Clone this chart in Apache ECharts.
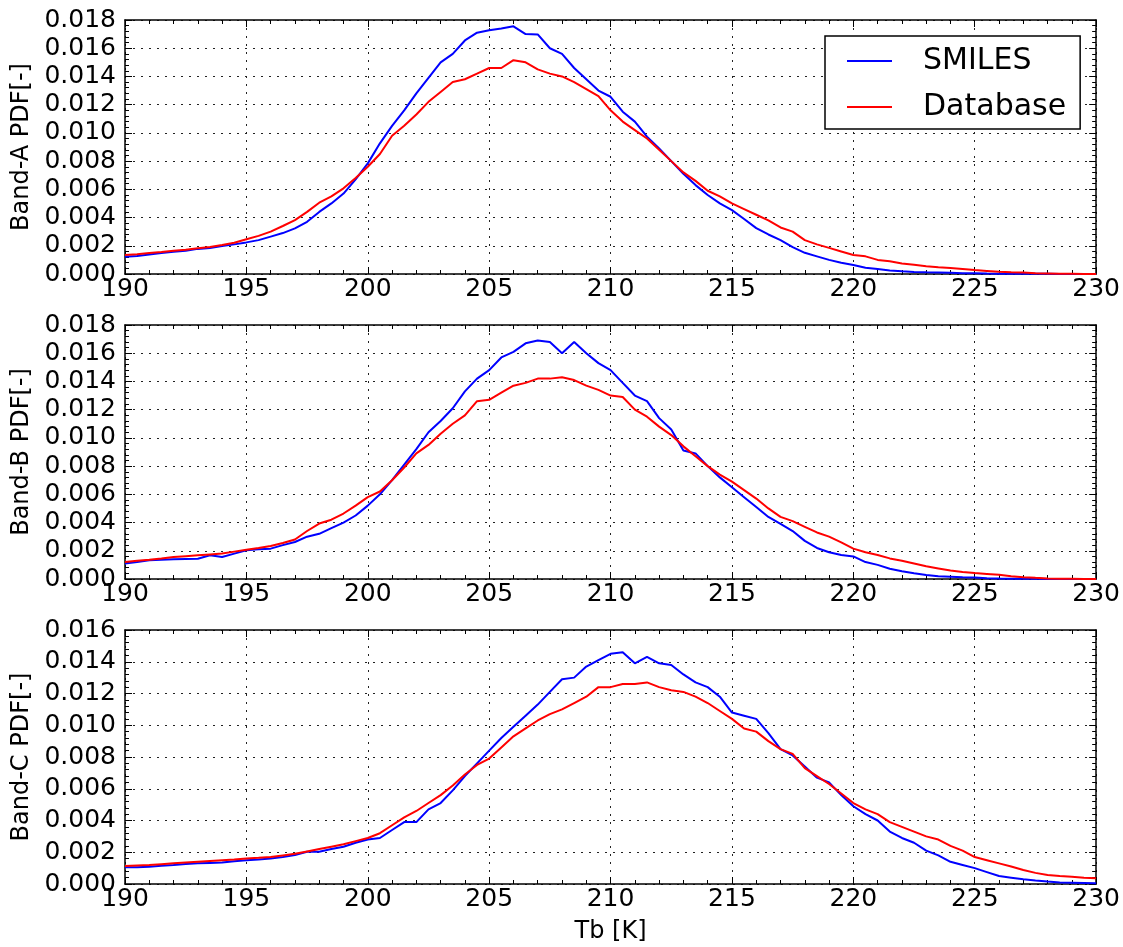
<!DOCTYPE html>
<html>
<head>
<meta charset="utf-8">
<script src="https://cdn.jsdelivr.net/npm/echarts@6/dist/echarts.min.js"></script>
<style>
html,body{margin:0;padding:0;background:#fff;}
#chart{width:1123px;height:947px;}
</style>
</head>
<body>
<div id="chart"></div>
<script>
// Brightness temperature axis (K)
const TB = [
  190,190.5,191,191.5,192,192.5,193,193.5,194,194.5,
  195,195.5,196,196.5,197,197.5,198,198.5,199,199.5,
  200,200.5,201,201.5,202,202.5,203,203.5,204,204.5,
  205,205.5,206,206.5,207,207.5,208,208.5,209,209.5,
  210,210.5,211,211.5,212,212.5,213,213.5,214,214.5,
  215,215.5,216,216.5,217,217.5,218,218.5,219,219.5,
  220,220.5,221,221.5,222,222.5,223,223.5,224,224.5,
  225,225.5,226,226.5,227,227.5,228,228.5,229,229.5,
  230
];

const bandA_SMILES = [
  0.00123,0.00128,0.00138,0.00148,0.00158,0.00165,0.00178,0.00185,0.00198,0.0021,
  0.00224,0.0024,0.00265,0.0029,0.00323,0.0037,0.0044,0.005,0.0057,0.0067,
  0.00784,0.00926,0.0105,0.0116,0.0128,0.0139,0.015,0.0156,0.01655,0.0171,
  0.01728,0.0174,0.01755,0.017,0.01698,0.016,0.0156,0.0146,0.0138,0.013,
  0.01256,0.0115,0.0108,0.00973,0.0089,0.008,0.0071,0.0063,0.0056,0.005,
  0.00453,0.0039,0.00325,0.0028,0.0024,0.0019,0.0015,0.00125,0.001,0.0008,
  0.00064,0.00045,0.00035,0.00025,0.00019,0.00015,0.00012,0.0001,0.00008,0.00006,
  0.00005,0.00003,0.00002,0.00002,0.00001,0.00001,0.00001,0,0,0,
  0
];
const bandA_Database = [
  0.00135,0.0014,0.00148,0.00156,0.00165,0.00172,0.00182,0.00192,0.00205,0.00222,
  0.00246,0.0027,0.003,0.0034,0.00382,0.0044,0.00505,0.0055,0.00607,0.0068,
  0.0076,0.0085,0.0098,0.0105,0.0113,0.0122,0.0129,0.0136,0.0138,0.0142,
  0.0146,0.0146,0.01515,0.015,0.0145,0.0142,0.014,0.0136,0.0131,0.0126,
  0.0116,0.0108,0.0102,0.0096,0.0088,0.008,0.0072,0.0066,0.0059,0.0055,
  0.005,0.0046,0.0042,0.0038,0.0033,0.003,0.0024,0.0021,0.00185,0.0016,
  0.00135,0.00125,0.001,0.0009,0.00075,0.00065,0.00055,0.00047,0.00042,0.00035,
  0.00028,0.00022,0.00016,0.00012,0.0001,0.00006,0.00004,0.00002,0.00001,0,
  0
];
const bandB_SMILES = [
  0.00109,0.0012,0.00132,0.00136,0.0014,0.00142,0.00144,0.00168,0.00156,0.0018,
  0.00203,0.0021,0.00215,0.0024,0.00262,0.003,0.0032,0.0036,0.004,0.0045,
  0.0052,0.006,0.007,0.0081,0.0092,0.0104,0.0112,0.0121,0.0133,0.0142,
  0.0148,0.0157,0.0161,0.0167,0.0169,0.0168,0.016,0.0168,0.016,0.0153,
  0.0148,0.0139,0.013,0.0126,0.0114,0.0106,0.0091,0.0089,0.008,0.0072,
  0.0065,0.0058,0.0051,0.0044,0.0039,0.0034,0.0027,0.0022,0.0019,0.0017,
  0.0016,0.0012,0.001,0.00073,0.00055,0.0004,0.00028,0.0002,0.00016,0.00012,
  0.0001,0.00006,0.00003,0.00002,0.00001,0.00001,0,0,0,0,
  0
];
const bandB_Database = [
  0.0012,0.0013,0.00137,0.00146,0.00156,0.00162,0.00168,0.00174,0.0018,0.00194,
  0.00208,0.0022,0.00234,0.00255,0.0028,0.0034,0.00393,0.0042,0.00464,0.0052,
  0.0058,0.0062,0.007,0.0079,0.0089,0.0095,0.0103,0.011,0.0116,0.0126,
  0.0127,0.0132,0.0137,0.0139,0.0142,0.0142,0.0143,0.0141,0.0137,0.0134,
  0.013,0.0129,0.012,0.0115,0.0108,0.0102,0.0094,0.0087,0.008,0.0074,
  0.0069,0.0063,0.0057,0.005,0.0044,0.0041,0.0037,0.0033,0.003,0.0026,
  0.00215,0.0019,0.0017,0.00146,0.0013,0.0011,0.0009,0.00075,0.0006,0.0005,
  0.00042,0.00036,0.0003,0.0002,0.00013,0.00008,0.00004,0.00002,0.00001,0,
  0
];
const bandC_SMILES = [
  0.00105,0.00106,0.00109,0.00115,0.0012,0.00126,0.0013,0.00133,0.00136,0.00143,
  0.0015,0.00155,0.00161,0.0017,0.00182,0.00203,0.00203,0.0022,0.00235,0.0026,
  0.0028,0.0029,0.0034,0.0039,0.0039,0.0047,0.0051,0.0059,0.0068,0.0076,
  0.0084,0.0092,0.0099,0.0106,0.0113,0.0121,0.0129,0.013,0.0137,0.0141,
  0.0145,0.0146,0.0139,0.0143,0.0139,0.0138,0.0132,0.0127,0.0124,0.0118,
  0.0108,0.0106,0.0104,0.0095,0.0085,0.0081,0.0074,0.0067,0.0064,0.0056,
  0.0049,0.0044,0.004,0.0033,0.0029,0.0026,0.0021,0.0018,0.0014,0.0012,
  0.001,0.00075,0.0005,0.0004,0.0003,0.00022,0.00015,0.0001,0.00008,0.00006,
  0.00004
];
const bandC_Database = [
  0.00113,0.00117,0.0012,0.00125,0.0013,0.00135,0.0014,0.00145,0.0015,0.00155,
  0.00161,0.00165,0.0017,0.0018,0.0019,0.00205,0.0022,0.00235,0.0025,0.0027,
  0.0029,0.0032,0.0037,0.0042,0.0046,0.0051,0.0056,0.0062,0.0069,0.0075,
  0.0079,0.0086,0.0093,0.0098,0.0103,0.0107,0.011,0.0114,0.0118,0.0124,
  0.0124,0.0126,0.0126,0.0127,0.0124,0.0122,0.0121,0.0118,0.0114,0.0109,
  0.0104,0.0098,0.0096,0.009,0.0085,0.0082,0.0073,0.0068,0.0063,0.0057,
  0.0051,0.0047,0.0044,0.0039,0.0036,0.0033,0.003,0.0028,0.0024,0.0021,
  0.0017,0.0015,0.0013,0.0011,0.00088,0.0007,0.00057,0.0005,0.00046,0.0004,
  0.00036
];

const panelNames = ['Band-A PDF[-]', 'Band-B PDF[-]', 'Band-C PDF[-]'];
const panelYMax = [0.018, 0.018, 0.016];
const seriesNames = ['SMILES', 'Database'];
const xLabel = 'Tb [K]';
const panelData = [
  [bandA_SMILES, bandA_Database],
  [bandB_SMILES, bandB_Database],
  [bandC_SMILES, bandC_Database]
];

const FONT = 'DejaVu Sans';
const panelTops = [20, 325, 630];
const PH = 254;

const grids = [], xAxes = [], yAxes = [], series = [];
const lineColors = ['#0000ff', '#ff0000'];

function zip(xs, ys) { return xs.map((x, i) => [x, ys[i]]); }

for (let i = 0; i < 3; i++) {
  grids.push({ left: 125, top: panelTops[i], width: 973, height: PH });
  const axLine = { show: true, onZero: false, lineStyle: { color: '#000', width: 1.5 } };
  const tick = { show: true, inside: true, length: 7, lineStyle: { color: '#000', width: 1 } };
  const minor = { show: true, splitNumber: 5, length: 4, lineStyle: { color: '#000', width: 1 } };
  const grid = { show: true, lineStyle: { color: '#222', width: 1, type: [2, 6] } };
  xAxes.push({
    gridIndex: i, type: 'value', position: 'bottom', min: 190, max: 230, interval: 5,
    axisLine: axLine, axisTick: tick, minorTick: minor, splitLine: grid,
    axisLabel: { show: true, fontFamily: FONT, fontSize: 25, color: '#000', margin: 3 },
    name: i === 2 ? xLabel : '', nameLocation: 'middle', nameGap: 36,
    nameTextStyle: { fontFamily: FONT, fontSize: 24, color: '#000' }
  });
  xAxes.push({
    gridIndex: i, type: 'value', position: 'top', min: 190, max: 230, interval: 5,
    axisLine: axLine, axisTick: tick, minorTick: minor,
    splitLine: { show: false }, axisLabel: { show: false }
  });
  yAxes.push({
    gridIndex: i, type: 'value', position: 'left', min: 0, max: panelYMax[i], interval: 0.002,
    axisLine: axLine, axisTick: tick, minorTick: minor, splitLine: grid,
    axisLabel: { show: true, fontFamily: FONT, fontSize: 25, color: '#000', margin: 9,
      formatter: v => v.toFixed(3) },
    name: panelNames[i], nameLocation: 'middle', nameGap: 90, nameRotate: 90,
    nameTextStyle: { fontFamily: FONT, fontSize: 24, color: '#000' }
  });
  yAxes.push({
    gridIndex: i, type: 'value', position: 'right', min: 0, max: panelYMax[i], interval: 0.002,
    axisLine: axLine, axisTick: tick, minorTick: minor,
    splitLine: { show: false }, axisLabel: { show: false }
  });
  for (let s = 0; s < 2; s++) {
    series.push({
      name: seriesNames[s], type: 'line',
      xAxisIndex: 2 * i, yAxisIndex: 2 * i,
      data: zip(TB, panelData[i][s]),
      showSymbol: false, symbol: 'none', smooth: false,
      lineStyle: { color: lineColors[s], width: 2 },
      itemStyle: { color: lineColors[s] },
      z: 3 + s, animation: false
    });
  }
}

const chart = echarts.init(document.getElementById('chart'), null, { renderer: 'canvas' });
chart.setOption({
  animation: false,
  backgroundColor: '#fff',
  textStyle: { fontFamily: FONT },
  grid: grids,
  xAxis: xAxes,
  yAxis: yAxes,
  legend: {
    data: seriesNames,
    orient: 'vertical',
    left: 825, top: 36,
    backgroundColor: '#fff',
    borderColor: '#000', borderWidth: 1.5, borderRadius: 0,
    padding: [9, 14, 6, 22],
    icon: 'rect',
    itemWidth: 45, itemHeight: 2, itemGap: 14,
    textStyle: { fontFamily: FONT, fontSize: 30, color: '#000', lineHeight: 32, padding: [0, 0, 0, 26] },
    z: 10
  },
  series: series
});
</script>
</body>
</html>
